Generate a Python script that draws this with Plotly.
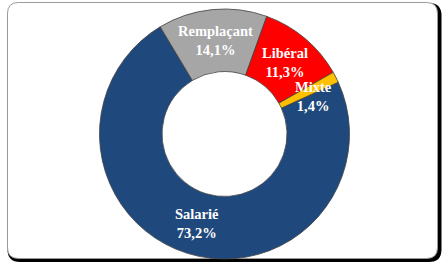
import math
import plotly.graph_objects as go

categories = ["Salarié", "Remplaçant", "Libéral", "Mixte"]
values = [73.2, 14.1, 11.3, 1.4]
value_labels = ["73,2%", "14,1%", "11,3%", "1,4%"]
colors = ["#1F497D", "#A6A6A6", "#FF0000", "#FFC000"]

W, H = 444, 262
cx, cy, R = 224.5, 134.0, 125.0
hole = 0.5
rotation = 65.5

fig = go.Figure()
fig.add_trace(go.Pie(
    labels=categories, values=values, sort=False, direction="clockwise",
    rotation=rotation, hole=hole,
    marker=dict(colors=colors, line=dict(color="#404040", width=0.8)),
    textinfo="none", hoverinfo="label+percent", showlegend=False,
    domain=dict(x=[(cx - R) / W, (cx + R) / W], y=[(H - cy - R) / H, (H - cy + R) / H]),
))

def rrect(x0, y0, x1, y1, r):
    # pixel coords (top-left origin) -> paper coords
    def p(x, y):
        return f"{x / W:.5f},{(H - y) / H:.5f}"
    return (f"M {p(x0 + r, y0)} L {p(x1 - r, y0)} Q {p(x1, y0)} {p(x1, y0 + r)} "
            f"L {p(x1, y1 - r)} Q {p(x1, y1)} {p(x1 - r, y1)} L {p(x0 + r, y1)} "
            f"Q {p(x0, y1)} {p(x0, y1 - r)} L {p(x0, y0 + r)} Q {p(x0, y0)} {p(x0 + r, y0)} Z")

shapes = [
    dict(type="path", xref="paper", yref="paper", path=rrect(9, 4.5, 440, 260.5, 11),
         line=dict(color="#000000", width=3), fillcolor="#000000", layer="below"),
    dict(type="path", xref="paper", yref="paper", path=rrect(7.5, 2.5, 437.5, 258.5, 11),
         line=dict(color="#9a9a9a", width=1), fillcolor="#ffffff", layer="below"),
]

annotations = []
total = sum(values)
cum = 0.0
rmid = R * (1 + hole) / 2
for cat, v, lab in zip(categories, values, value_labels):
    ang = math.radians(rotation + 360 * (cum + v / 2) / total)
    cum += v
    rr = rmid + (3 if v < 5 else 0)
    extra = math.radians(4 if v < 5 else 0)
    x = cx + rr * math.sin(ang + extra)
    y = cy - rr * math.cos(ang + extra)
    annotations.append(dict(
        x=x / W, y=(H - y) / H, xref="paper", yref="paper", showarrow=False,
        xanchor="center", yanchor="middle",
        text=f"<b>{cat}<br>{lab}</b>", align="center",
        font=dict(family="Liberation Serif", size=14.5, color="#ffffff"),
    ))

fig.update_layout(
    width=W, height=H, margin=dict(l=0, r=0, t=0, b=0),
    paper_bgcolor="#ffffff", plot_bgcolor="#ffffff",
    shapes=shapes, annotations=annotations,
)
fig.write_html("out.html", config={"displayModeBar": False},
               post_script="document.body.style.margin='0';")
